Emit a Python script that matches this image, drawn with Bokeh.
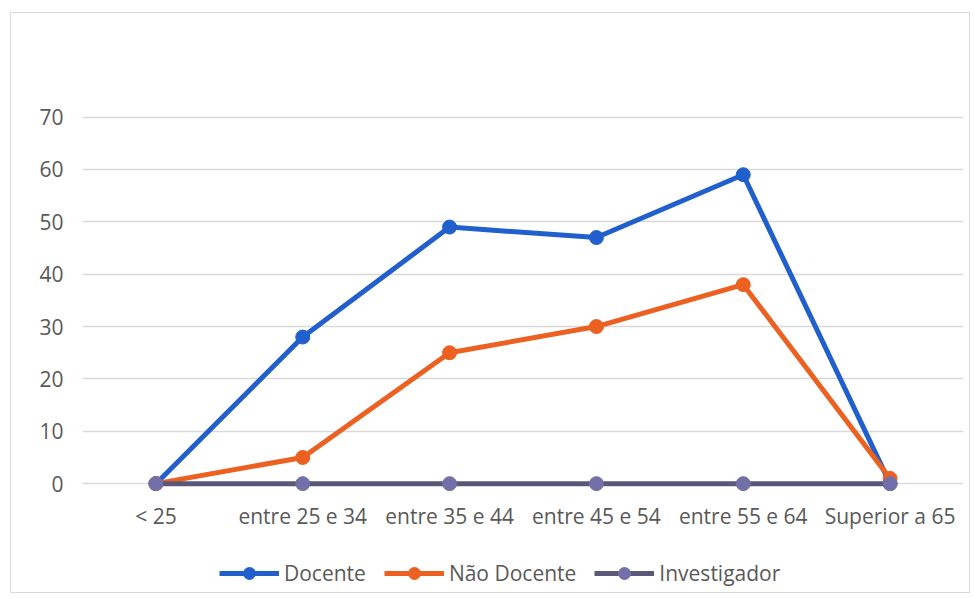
from bokeh.plotting import figure
from bokeh.models import FixedTicker, Legend, LegendItem, Range1d, FactorRange
from bokeh.layouts import column
from bokeh.embed import file_html
from bokeh.resources import INLINE

categories = ["< 25", "entre 25 e 34", "entre 35 e 44", "entre 45 e 54", "entre 55 e 64", "Superior a 65"]
docente = [0, 28, 49, 47, 59, 0]
nao_docente = [0, 5, 25, 30, 38, 1]
investigador = [0, 0, 0, 0, 0, 0]
y_ticks = [0, 10, 20, 30, 40, 50, 60, 70]
series_names = ["Docente", "Não Docente", "Investigador"]

FONT = "Open Sans"
TXT = "#595959"
line_colors = ["#2160cc", "#ec6121", "#5a5878"]
marker_colors = ["#2160cc", "#ec6121", "#7270a8"]

p = figure(width=958, height=519, x_range=FactorRange(factors=categories),
           y_range=Range1d(-1.5, 70.5), output_backend="svg", toolbar_location=None,
           min_border_left=71, min_border_right=6, min_border_top=101, min_border_bottom=20)
p.outline_line_color = None
p.background_fill_color = "white"
p.border_fill_color = "white"

p.xgrid.grid_line_color = None
p.ygrid.grid_line_color = "#d9d9d9"
p.ygrid.grid_line_width = 1.5
p.yaxis.ticker = FixedTicker(ticks=y_ticks)
for ax in (p.xaxis, p.yaxis):
    ax.axis_line_color = None
    ax.major_tick_line_color = None
    ax.minor_tick_line_color = None
    ax.major_label_text_font = FONT
    ax.major_label_text_font_size = "21px"
    ax.major_label_text_color = TXT
p.xaxis.major_label_standoff = 4
p.yaxis.major_label_standoff = 13

all_series = [docente, nao_docente, investigador]
for vals, lc, mc in zip(all_series, line_colors, marker_colors):
    p.line(categories, vals, line_color=lc, line_width=5)
    p.scatter(categories, vals, size=14, fill_color=mc, line_color=mc)

# legend in a separate strip below the chart (dummy renderers sit outside the visible range)
lg = figure(width=958, height=60, x_range=(0, 1), y_range=(0, 1), output_backend="svg",
            toolbar_location=None, x_axis_location=None, y_axis_location=None,
            min_border=0)
lg.outline_line_color = None
lg.grid.visible = False
items = []
for name, lc, mc in zip(series_names, line_colors, marker_colors):
    l = lg.line([5, 6], [5, 5], line_color=lc, line_width=5)
    s = lg.scatter([5], [5], size=14, fill_color=mc, line_color=mc)
    items.append(LegendItem(label=name, renderers=[l, s]))
legend = Legend(items=items, orientation="horizontal", location=(137, 4),
                label_text_font=FONT, label_text_font_size="21px", label_text_color=TXT,
                glyph_width=60, glyph_height=30, spacing=18, label_standoff=5,
                border_line_color=None, background_fill_alpha=0, margin=0, padding=0)
lg.add_layout(legend, "center")

layout = column(p, lg, spacing=0, margin=(12, 0, 0, 10),
                styles={"border": "1px solid #d9d9d9"})

open("out.html", "w").write(file_html(layout, INLINE))
